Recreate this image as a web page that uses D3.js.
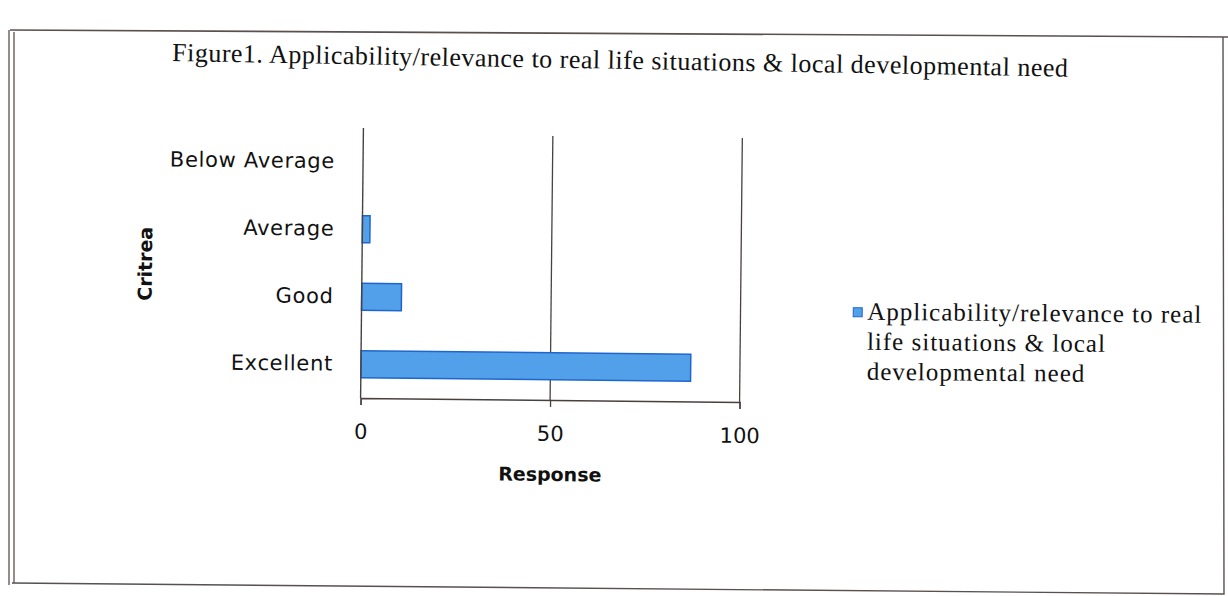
<!DOCTYPE html>
<html>
<head>
<meta charset="utf-8">
<script src="https://cdn.jsdelivr.net/npm/d3@7"></script>
<style>
  body { margin: 0; background: #fff; }
  svg { display: block; }
</style>
</head>
<body>
<script>
(function(){

  //chart data
  var categories = ["Below Average", "Average", "Good", "Excellent"];
  var responses = [0, 2, 10.5, 87];
  var xTicks = [0, 50, 100];
  var titleText = "Figure1. Applicability/relevance to real life situations & local developmental need";
  var legendLines = ["Applicability/relevance to real", "life situations & local", "developmental need"];

  var width = 1228, height = 596;
  var sans = "'DejaVu Sans', sans-serif";

  var svg = d3.select("body").append("svg")
    .attr("width", width)
    .attr("height", height);

  //outer frame (scanned page, slightly skewed)
  var frame = svg.append("g").attr("fill", "none").attr("stroke", "#5a5050");
  frame.append("path")
    .attr("d", "M10,30 L1228,37")
    .attr("stroke-width", 1.6);
  frame.append("path")
    .attr("d", "M12,583 L1224,594 L1223,37")
    .attr("stroke-width", 1.4);
  frame.append("path").attr("d", "M9,30 L9,585").attr("stroke-width", 1.3);
  frame.append("path").attr("d", "M14,32 L14,583").attr("stroke-width", 1.3);

  //title
  svg.append("text")
    .attr("x", 172)
    .attr("y", 61)
    .attr("transform", "rotate(1,172,61)")
    .attr("font-family", "'Liberation Serif', serif")
    .attr("font-size", 26)
    .attr("letter-spacing", 0.5)
    .attr("fill", "#111")
    .text(titleText);

  //chart group, rotated slightly like the scan
  var g = svg.append("g").attr("transform", "rotate(0.6,552,265)");

  var x = d3.scaleLinear().domain([0, 100]).range([362, 741]);
  var y = d3.scaleBand().domain(categories).range([130, 400]).paddingInner(0.6).paddingOuter(0.3);

  //gridlines
  g.selectAll(".grid")
    .data(xTicks.slice(1))
    .enter().append("line")
    .attr("x1", function(d){ return x(d); })
    .attr("x2", function(d){ return x(d); })
    .attr("y1", 136)
    .attr("y2", 400)
    .attr("stroke", "#4a4040")
    .attr("stroke-width", 1.3);

  //bars
  g.selectAll(".bar")
    .data(responses)
    .enter().append("rect")
    .attr("class", "bar")
    .attr("x", x(0))
    .attr("y", function(d, i){ return y(categories[i]); })
    .attr("width", function(d){ return x(d) - x(0); })
    .attr("height", y.bandwidth())
    .attr("fill", "#52a0ea")
    .attr("stroke", "#1f66cc")
    .attr("stroke-width", 1.5)
    .style("display", function(d){ return d > 0 ? null : "none"; });

  //x axis
  var xAxis = g.append("g")
    .attr("transform", "translate(0,400)")
    .call(d3.axisBottom(x).tickValues(xTicks).tickSize(7).tickPadding(19));
  xAxis.select(".domain").attr("stroke", "#4a4040").attr("stroke-width", 1.4);
  xAxis.selectAll(".tick line").attr("stroke", "#4a4040").attr("stroke-width", 1.3);
  xAxis.selectAll("text")
    .attr("font-family", sans)
    .attr("font-size", 21)
    .attr("fill", "#111");

  //y axis
  var yAxis = g.append("g")
    .attr("transform", "translate(362,0)")
    .call(d3.axisLeft(y).tickSize(0).tickPadding(28));
  yAxis.select(".domain").attr("d", "M0,130V400").attr("stroke", "#4a4040").attr("stroke-width", 1.4);
  yAxis.selectAll("text")
    .attr("font-family", sans)
    .attr("font-size", 21)
    .attr("letter-spacing", 0.7)
    .attr("fill", "#111");

  //axis titles
  g.append("text")
    .attr("x", 552)
    .attr("y", 481)
    .attr("text-anchor", "middle")
    .attr("font-family", sans)
    .attr("font-weight", "bold")
    .attr("font-size", 19)
    .attr("fill", "#111")
    .text("Response");

  g.append("text")
    .attr("transform", "translate(152,268) rotate(-90)")
    .attr("text-anchor", "middle")
    .attr("font-family", sans)
    .attr("font-weight", "bold")
    .attr("font-size", 19)
    .attr("fill", "#111")
    .text("Critrea");

  //legend
  var legend = svg.append("g").attr("transform", "rotate(0.5,1000,340)");
  legend.append("rect")
    .attr("x", 853)
    .attr("y", 309)
    .attr("width", 9)
    .attr("height", 9)
    .attr("fill", "#52a0ea")
    .attr("stroke", "#1f66cc");
  legend.selectAll(".leg")
    .data(legendLines)
    .enter().append("text")
    .attr("x", 867)
    .attr("y", function(d, i){ return 321 + i * 30; })
    .attr("font-family", "'Liberation Serif', serif")
    .attr("font-size", 25)
    .attr("letter-spacing", 1)
    .attr("fill", "#111")
    .text(function(d){ return d; });

})();
</script>
</body>
</html>
